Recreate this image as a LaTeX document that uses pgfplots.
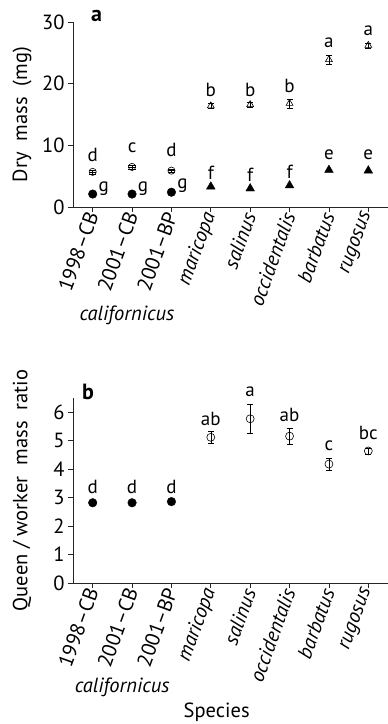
\documentclass[border=0pt]{standalone}
\usepackage{fontspec}
\setmainfont{PT Sans}
\usepackage{pgfplots}
\pgfplotsset{compat=1.18}
\tikzset{ann/.style={font=\fontsize{19bp}{21bp}\selectfont}}
\newcommand{\lbl}{\fontsize{20.5bp}{23bp}\selectfont}
\begin{document}
\begin{tikzpicture}
\pgfplotsset{
  common/.style={
    scale only axis, width=315bp, height=185bp,
    xmin=-0.5, xmax=7.5, ymin=0,
    axis x line*=bottom, axis y line*=left,
    axis line style={-, line width=0.8pt, black!85},
    tick style={line width=0.7pt, black!85},
    tick align=outside, major tick length=5bp,
    xtick={0,...,7},
    xticklabels={1998--CB,2001--CB,2001--BP,\textit{maricopa},\textit{salinus},\textit{occidentalis},\textit{barbatus},\textit{rugosus}},
    xticklabel style={rotate=70, anchor=east, font=\lbl, inner sep=1bp},
    yticklabel style={font=\lbl},
    clip=false,
    /pgf/number format/assume math mode=true,
    every axis y label/.style={at={(rel axis cs:-0.162,0.5)}, rotate=90, anchor=center, font=\lbl},
  },
}
% ---------- panel a ----------
\begin{axis}[common, at={(73bp,-207bp)}, anchor=south west, ymax=30, ytick={0,10,20,30},
  ylabel={Dry\ \ mass\ \ (mg)}]
% workers, californicus
\addplot[only marks, mark=*, mark size=4.3bp, black] coordinates {(0,2.1) (1,2.1) (2,2.4)};
% workers, other species
\addplot[only marks, mark=triangle*, mark size=5bp, black] coordinates {(3,3.3) (4,3.0) (5,3.5) (6,6.0) (7,5.9)};
% queens, californicus
\addplot[only marks, mark=o, mark size=3.6bp, black, line width=0.6pt,
  error bars/.cd, y dir=both, y explicit, error bar style={line width=0.6pt}] coordinates {(0,5.7) +- (0,0.3) (1,6.5) +- (0,0.3) (2,5.9) +- (0,0.3)};
\addplot[only marks, mark=-, mark size=3.6bp, black, line width=0.6pt] coordinates {(0,5.7) (1,6.5) (2,5.9)};
% queens, other species
\addplot[only marks, mark=triangle, mark size=4bp, black, line width=0.6pt,
  error bars/.cd, y dir=both, y explicit, error mark options={rotate=90, mark size=3bp}, error bar style={line width=0.6pt}]
  coordinates {(3,16.4) +- (0,0.4) (4,16.6) +- (0,0.4) (5,16.8) +- (0,0.7) (6,23.9) +- (0,0.7) (7,26.2) +- (0,0.4)};
\node[ann] at (axis cs:0,8.45) {d};
\node[ann] at (axis cs:1,9.6) {c};
\node[ann] at (axis cs:2,9.3) {d};
\node[ann] at (axis cs:3,19.0) {b};
\node[ann] at (axis cs:4,19.0) {b};
\node[ann] at (axis cs:5,19.6) {b};
\node[ann] at (axis cs:6,26.6) {a};
\node[ann] at (axis cs:7,28.6) {a};
\node[ann] at (axis cs:0.28,2.9) {g};
\node[ann] at (axis cs:1.28,2.9) {g};
\node[ann] at (axis cs:2.28,3.4) {g};
\node[ann] at (axis cs:3,5.5) {f};
\node[ann] at (axis cs:4,5.2) {f};
\node[ann] at (axis cs:5,5.7) {f};
\node[ann] at (axis cs:6,8.45) {e};
\node[ann] at (axis cs:7,8.45) {e};
\node[font=\bfseries\fontsize{22bp}{24bp}\selectfont] at (axis cs:0.1,30.9) {a};
\node[font=\itshape\lbl] at (axis cs:0.87,-17.6) {californicus};
\end{axis}
% ---------- panel b ----------
\begin{axis}[common, at={(73bp,-583bp)}, anchor=south west, ymax=6.5, ytick={0,...,6},
  ylabel={Queen\ /\ worker\ \ mass\ \ ratio}]
\addplot[only marks, mark=*, mark size=4.3bp, black] coordinates {(0,2.82) (1,2.82) (2,2.86)};
\addplot[only marks, mark=o, mark size=4bp, black, line width=0.6pt,
  error bars/.cd, y dir=both, y explicit, error mark options={rotate=90, mark size=3bp}, error bar style={line width=0.6pt}]
  coordinates {(3,5.12) +- (0,0.2) (4,5.77) +- (0,0.5) (5,5.16) +- (0,0.27) (6,4.18) +- (0,0.2) (7,4.64) +- (0,0.1)};
\node[ann] at (axis cs:0,3.38) {d};
\node[ann] at (axis cs:1,3.38) {d};
\node[ann] at (axis cs:2,3.38) {d};
\node[ann] at (axis cs:3,5.75) {ab};
\node[ann] at (axis cs:4,6.72) {a};
\node[ann] at (axis cs:5,5.9) {ab};
\node[ann] at (axis cs:6,4.81) {c};
\node[ann] at (axis cs:7,5.26) {bc};
\node[font=\bfseries\fontsize{22bp}{24bp}\selectfont] at (axis cs:-0.12,6.72) {b};
\node[font=\itshape\lbl] at (axis cs:0.75,-3.65) {californicus};
\node[font=\lbl] at (axis cs:3.15,-4.55) {Species};
\end{axis}
\pgfresetboundingbox
\path[use as bounding box] (0,0) rectangle (388bp,-724bp);
\end{tikzpicture}
\end{document}
